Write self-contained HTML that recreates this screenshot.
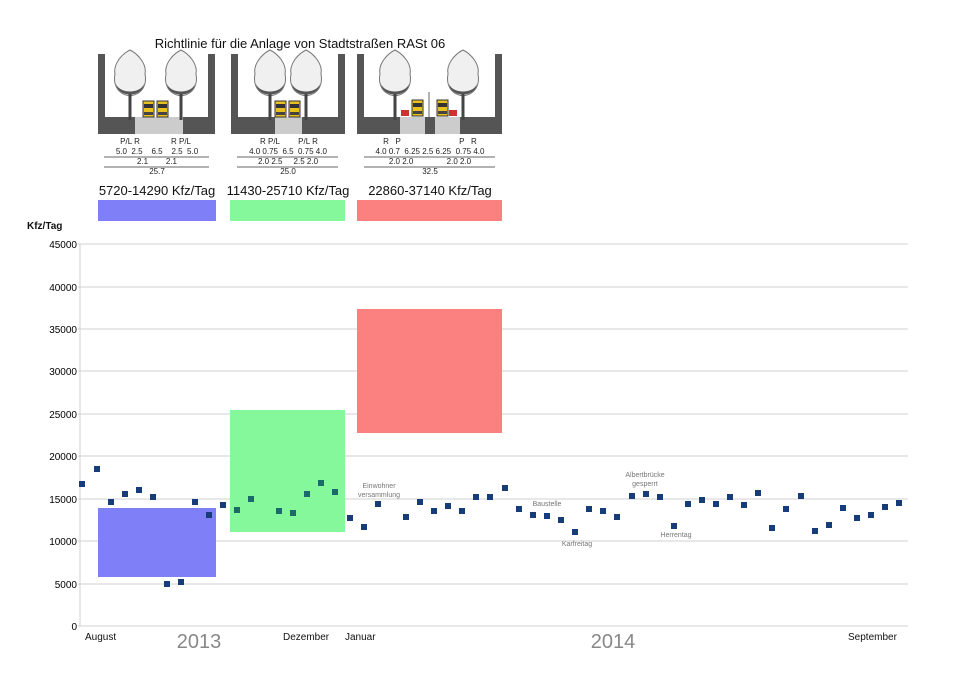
<!DOCTYPE html>
<html><head><meta charset="utf-8"><style>
body{margin:0;background:#fff}
svg{display:block;font-family:"Liberation Sans","DejaVu Sans",sans-serif}
</style></head><body>
<svg width="960" height="678" viewBox="0 0 960 678" xmlns="http://www.w3.org/2000/svg">
<defs>
<g id="tree">
<path d="M0,0 C-13,-2 -17,-12 -15,-22 C-17,-32 -8,-42 0,-46 C8,-42 17,-32 15,-22 C17,-12 13,-2 0,0Z" fill="#f0f0f0" stroke="#777" stroke-width="1"/>
<path d="M-14,-12 C-10,-2 10,-2 14,-12 C12,2 -12,2 -14,-12Z" fill="#555"/>
<rect x="-1.5" y="-2" width="3" height="26" fill="#444"/>
</g>
<g id="tram"><rect x="0" y="0" width="11" height="16" fill="#e8c020" stroke="#333" stroke-width="1"/><rect x="1" y="3" width="9" height="4" fill="#333"/><rect x="1" y="11" width="9" height="3" fill="#444"/></g>
</defs>
<text x="300" y="48" font-size="13" text-anchor="middle" fill="#111">Richtlinie für die Anlage von Stadtstraßen RASt 06</text>
<g>
<rect x="98" y="54" width="7" height="80" fill="#555"/><rect x="208" y="54" width="7" height="80" fill="#555"/>
<rect x="98" y="117" width="117" height="17" fill="#555"/>
<rect x="135" y="117" width="48" height="17" fill="#ccc"/>
<use href="#tree" x="130" y="96"/><use href="#tree" x="181" y="96"/>
<use href="#tram" x="143" y="101"/><use href="#tram" x="157" y="101"/>
</g>
<g>
<rect x="231" y="54" width="7" height="80" fill="#555"/><rect x="338" y="54" width="7" height="80" fill="#555"/>
<rect x="231" y="117" width="114" height="17" fill="#555"/>
<rect x="275" y="117" width="27" height="17" fill="#ccc"/>
<use href="#tree" x="270" y="96"/><use href="#tree" x="306" y="96"/>
<use href="#tram" x="275" y="101"/><use href="#tram" x="289" y="101"/>
</g>
<g>
<rect x="357" y="54" width="7" height="80" fill="#555"/><rect x="495" y="54" width="7" height="80" fill="#555"/>
<rect x="357" y="117" width="145" height="17" fill="#555"/>
<rect x="400" y="117" width="25" height="17" fill="#ccc"/><rect x="435" y="117" width="25" height="17" fill="#ccc"/>
<use href="#tree" x="395" y="96"/><use href="#tree" x="463" y="96"/>
<use href="#tram" x="412" y="100"/><use href="#tram" x="437" y="100"/>
<rect x="401" y="110" width="8" height="6" fill="#c33"/><rect x="449" y="110" width="8" height="6" fill="#c33"/>
<line x1="429" y1="92" x2="429" y2="117" stroke="#666"/>
</g>
<g font-size="8" fill="#222" text-anchor="middle">
<text x="130" y="144">P/L R</text><text x="181" y="144">R P/L</text>
<text x="157" y="154" xml:space="preserve">5.0  2.5    6.5    2.5  5.0</text><text x="157" y="164" xml:space="preserve">2.1        2.1</text><text x="157" y="174">25.7</text>
<text x="270" y="144">R  P/L</text><text x="308" y="144">P/L  R</text>
<text x="288" y="154" xml:space="preserve">4.0 0.75  6.5  0.75 4.0</text><text x="288" y="164" xml:space="preserve">2.0 2.5     2.5 2.0</text><text x="288" y="174">25.0</text>
<text x="392" y="144" xml:space="preserve">R   P</text><text x="468" y="144" xml:space="preserve">P   R</text>
<text x="430" y="154" xml:space="preserve">4.0 0.7  6.25 2.5 6.25  0.75 4.0</text><text x="430" y="164" xml:space="preserve">2.0 2.0               2.0 2.0</text><text x="430" y="174">32.5</text>
</g>
<g stroke="#333" stroke-width="0.7">
<line x1="104" y1="157" x2="209" y2="157"/><line x1="104" y1="167" x2="209" y2="167"/>
<line x1="237" y1="157" x2="338" y2="157"/><line x1="237" y1="167" x2="338" y2="167"/>
<line x1="364" y1="157" x2="495" y2="157"/><line x1="364" y1="167" x2="495" y2="167"/>
</g>
<g font-size="13" fill="#111" text-anchor="middle">
<text x="157" y="195">5720-14290 Kfz/Tag</text><text x="288" y="195">11430-25710 Kfz/Tag</text><text x="430" y="195">22860-37140 Kfz/Tag</text>
</g>
<rect x="98" y="200" width="118" height="21" fill="#7f7ff8"/>
<rect x="230" y="200" width="115" height="21" fill="#85f89c"/>
<rect x="357" y="200" width="145" height="21" fill="#fb8080"/>
<text x="27" y="229" font-size="10" font-weight="bold" fill="#111">Kfz/Tag</text>
<g stroke="#d0d0d0" stroke-width="1">
<line x1="78" y1="244" x2="908" y2="244"/><line x1="78" y1="287" x2="908" y2="287"/><line x1="78" y1="329" x2="908" y2="329"/>
<line x1="78" y1="371" x2="908" y2="371"/><line x1="78" y1="414" x2="908" y2="414"/><line x1="78" y1="456" x2="908" y2="456"/>
<line x1="78" y1="499" x2="908" y2="499"/><line x1="78" y1="541" x2="908" y2="541"/><line x1="78" y1="584" x2="908" y2="584"/>
<line x1="78" y1="626" x2="908" y2="626"/><line x1="80" y1="244" x2="80" y2="626"/>
</g>
<g font-size="10" fill="#000" text-anchor="end">
<text x="77" y="248">45000</text><text x="77" y="291">40000</text><text x="77" y="333">35000</text><text x="77" y="375">30000</text>
<text x="77" y="418">25000</text><text x="77" y="460">20000</text><text x="77" y="503">15000</text><text x="77" y="545">10000</text>
<text x="77" y="588">5000</text><text x="77" y="630">0</text>
</g>
<rect x="98" y="508" width="118" height="69" fill="#7f7ff8"/>
<rect x="230" y="410" width="115" height="122" fill="#85f89c"/>
<rect x="357" y="309" width="145" height="124" fill="#fb8080"/>
<g fill="#163d78">
<rect x="79" y="481" width="6" height="6"/><rect x="94" y="466" width="6" height="6"/><rect x="108" y="499" width="6" height="6"/>
<rect x="122" y="491" width="6" height="6"/><rect x="136" y="487" width="6" height="6"/><rect x="150" y="494" width="6" height="6"/>
<rect x="164" y="581" width="6" height="6"/><rect x="178" y="579" width="6" height="6"/><rect x="192" y="499" width="6" height="6"/>
<rect x="206" y="512" width="6" height="6"/><rect x="220" y="502" width="6" height="6"/><rect x="234" y="507" width="6" height="6" fill="#1a6a6a"/>
<rect x="248" y="496" width="6" height="6" fill="#1a6a6a"/><rect x="276" y="508" width="6" height="6" fill="#1a6a6a"/><rect x="290" y="510" width="6" height="6" fill="#1a6a6a"/>
<rect x="304" y="491" width="6" height="6" fill="#1a6a6a"/><rect x="318" y="480" width="6" height="6" fill="#1a6a6a"/><rect x="332" y="489" width="6" height="6" fill="#1a6a6a"/>
<rect x="347" y="515" width="6" height="6"/><rect x="361" y="524" width="6" height="6"/><rect x="375" y="501" width="6" height="6"/>
<rect x="403" y="514" width="6" height="6"/><rect x="417" y="499" width="6" height="6"/><rect x="431" y="508" width="6" height="6"/>
<rect x="445" y="503" width="6" height="6"/><rect x="459" y="508" width="6" height="6"/><rect x="473" y="494" width="6" height="6"/>
<rect x="487" y="494" width="6" height="6"/><rect x="502" y="485" width="6" height="6"/><rect x="516" y="506" width="6" height="6"/>
<rect x="530" y="512" width="6" height="6"/><rect x="544" y="513" width="6" height="6"/><rect x="558" y="517" width="6" height="6"/>
<rect x="572" y="529" width="6" height="6"/><rect x="586" y="506" width="6" height="6"/><rect x="600" y="508" width="6" height="6"/>
<rect x="614" y="514" width="6" height="6"/><rect x="629" y="493" width="6" height="6"/><rect x="643" y="491" width="6" height="6"/>
<rect x="657" y="494" width="6" height="6"/><rect x="671" y="523" width="6" height="6"/><rect x="685" y="501" width="6" height="6"/>
<rect x="699" y="497" width="6" height="6"/><rect x="713" y="501" width="6" height="6"/><rect x="727" y="494" width="6" height="6"/>
<rect x="741" y="502" width="6" height="6"/><rect x="755" y="490" width="6" height="6"/><rect x="769" y="525" width="6" height="6"/>
<rect x="783" y="506" width="6" height="6"/><rect x="798" y="493" width="6" height="6"/><rect x="812" y="528" width="6" height="6"/>
<rect x="826" y="522" width="6" height="6"/><rect x="840" y="505" width="6" height="6"/><rect x="854" y="515" width="6" height="6"/>
<rect x="868" y="512" width="6" height="6"/><rect x="882" y="504" width="6" height="6"/><rect x="896" y="500" width="6" height="6"/>
</g>
<g font-size="7" fill="#777" text-anchor="middle">
<text x="379" y="488">Einwohner</text><text x="379" y="497">versammlung</text>
<text x="547" y="506">Baustelle</text><text x="577" y="546">Karfreitag</text>
<text x="645" y="477">Albertbrücke</text><text x="645" y="486">gesperrt</text><text x="676" y="537">Herrentag</text>
</g>
<g font-size="10" fill="#111">
<text x="85" y="640">August</text><text x="283" y="640">Dezember</text><text x="345" y="640">Januar</text><text x="848" y="640">September</text>
</g>
<text x="199" y="648" font-size="20" fill="#888" text-anchor="middle">2013</text>
<text x="613" y="648" font-size="20" fill="#888" text-anchor="middle">2014</text>
</svg>
</body></html>
